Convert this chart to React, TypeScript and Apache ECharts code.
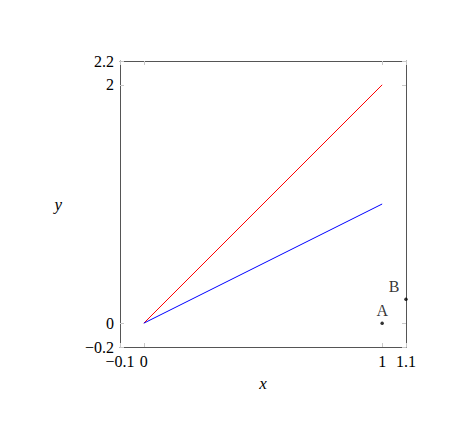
import React, { useEffect, useRef } from "react";
import * as echarts from "echarts";

const xTicks = [-0.1, 0, 1, 1.1];
const yTicks = [-0.2, 0, 2, 2.2];
const redLine = [
  [0, 0],
  [1, 2],
];
const blueLine = [
  [0, 0],
  [1, 1],
];
const points = [
  { name: "A", value: [1, 0] },
  { name: "B", value: [1.1, 0.2] },
];

const FONT = "'Liberation Serif', 'DejaVu Serif', serif";
const fmt = (v: number) => (v < 0 ? "\u2212" + Math.abs(v) : String(v));

export default function App() {
  const ref = useRef<HTMLDivElement>(null);
  useEffect(() => {
    const chart = echarts.init(ref.current!, undefined, { renderer: "svg" });
    const tick = { show: true, inside: true, length: 4, lineStyle: { color: "#c8c8c8", width: 1 } };
    const axisLine = { show: true, onZero: false, lineStyle: { color: "#555", width: 1 } };
    const baseX = {
      type: "value" as const,
      min: -0.1,
      max: 1.1,
      splitLine: { show: false },
      axisLine,
    };
    const baseY = {
      type: "value" as const,
      min: -0.2,
      max: 2.2,
      splitLine: { show: false },
      axisLine,
    };
    chart.setOption({
      animation: false,
      textStyle: { fontFamily: FONT },
      grid: { left: 120, top: 61, width: 286, height: 286, containLabel: false },
      xAxis: [
        {
          ...baseX,
          position: "bottom",
          axisTick: { ...tick, customValues: xTicks },
          axisLabel: {
            customValues: xTicks,
            formatter: fmt,
            color: "#000",
            fontFamily: FONT,
            fontSize: 16,
            margin: 6,
            hideOverlap: false,
          },
          name: "x",
          nameLocation: "middle",
          nameGap: 28,
          nameTextStyle: { color: "#000", fontFamily: FONT, fontSize: 17, fontStyle: "italic" },
        },
        {
          ...baseX,
          position: "top",
          axisTick: { ...tick, customValues: xTicks },
          axisLabel: { show: false },
        },
      ],
      yAxis: [
        {
          ...baseY,
          position: "left",
          axisTick: { ...tick, customValues: yTicks },
          axisLabel: {
            customValues: yTicks,
            formatter: fmt,
            color: "#000",
            fontFamily: FONT,
            fontSize: 16,
            margin: 6,
            hideOverlap: false,
          },
          name: "y",
          nameLocation: "middle",
          nameGap: 58,
          nameRotate: 0,
          nameTextStyle: { color: "#000", fontFamily: FONT, fontSize: 17, fontStyle: "italic" },
        },
        {
          ...baseY,
          position: "right",
          axisTick: { ...tick, customValues: yTicks },
          axisLabel: { show: false },
        },
      ],
      series: [
        {
          type: "line",
          data: redLine,
          symbol: "none",
          lineStyle: { color: "#ff0000", width: 1 },
        },
        {
          type: "line",
          data: blueLine,
          symbol: "none",
          lineStyle: { color: "#0000ff", width: 1 },
        },
        {
          type: "scatter",
          clip: false,
          symbol: "circle",
          symbolSize: 3.5,
          itemStyle: { color: "#000" },
          data: points.map((p, i) => ({
            name: p.name,
            value: p.value,
            label: {
              show: true,
              formatter: "{b}",
              position: "top",
              distance: 3,
              offset: i === 1 ? [-12, 0] : [0, 0],
              color: "#000",
              fontFamily: FONT,
              fontSize: 16,
            },
          })),
        },
      ],
    });
    return () => chart.dispose();
  }, []);
  return (
    <div
      ref={ref}
      style={{ position: "fixed", left: 0, top: 0, width: 474, height: 443, background: "#fff" }}
    />
  );
}
